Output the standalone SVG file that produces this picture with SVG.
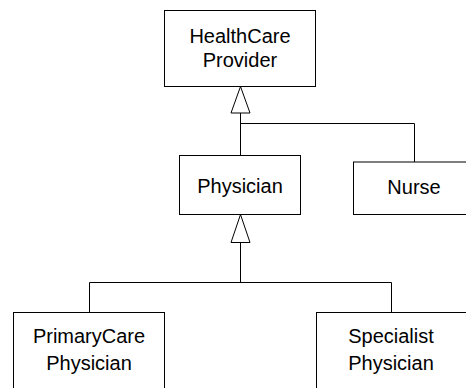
<svg xmlns="http://www.w3.org/2000/svg" width="466" height="388" viewBox="0 0 466 388">
  <style>
    .box { fill: #fff; stroke: #000; stroke-width: 1; }
    .lbl { font-family: "Liberation Sans", Arial, sans-serif; font-size: 20px; fill: #000; text-anchor: middle; }
    .edge { fill: none; stroke: #000; stroke-width: 1; }
    .head { fill: #fff; stroke: #000; stroke-width: 1; }
  </style>
  <rect width="466" height="388" fill="#fff"/>

  <g id="connectors">
    <!-- Physician and Nurse generalise HealthCare Provider -->
    <path class="edge" d="M240.5 113 V155 M240.5 123.5 H414.5 V162"/>
    <polygon class="head" points="240.5,86.5 231,113 250,113"/>
    <!-- PrimaryCare and Specialist generalise Physician -->
    <path class="edge" d="M240.5 242 V282.5 M89.5 312 V282.5 H391.5 V312"/>
    <polygon class="head" points="240.5,214.5 231,242.5 250,242.5"/>
  </g>

  <g id="healthcare-provider">
    <rect class="box" x="164.5" y="10.5" width="151" height="76"/>
    <text class="lbl" x="240" y="43">HealthCare</text>
    <text class="lbl" x="240" y="67">Provider</text>
  </g>

  <g id="physician">
    <rect class="box" x="179.5" y="155.5" width="121" height="59"/>
    <text class="lbl" x="240" y="193">Physician</text>
  </g>

  <g id="nurse">
    <rect class="box" x="353.5" y="162" width="121" height="52.5"/>
    <text class="lbl" x="414" y="194">Nurse</text>
  </g>

  <g id="primarycare-physician">
    <rect class="box" x="13.5" y="312.5" width="151" height="80"/>
    <text class="lbl" x="89" y="343">PrimaryCare</text>
    <text class="lbl" x="89" y="370">Physician</text>
  </g>

  <g id="specialist-physician">
    <rect class="box" x="316.5" y="312.5" width="151" height="80"/>
    <text class="lbl" x="391" y="343">Specialist</text>
    <text class="lbl" x="391" y="370">Physician</text>
  </g>
</svg>
